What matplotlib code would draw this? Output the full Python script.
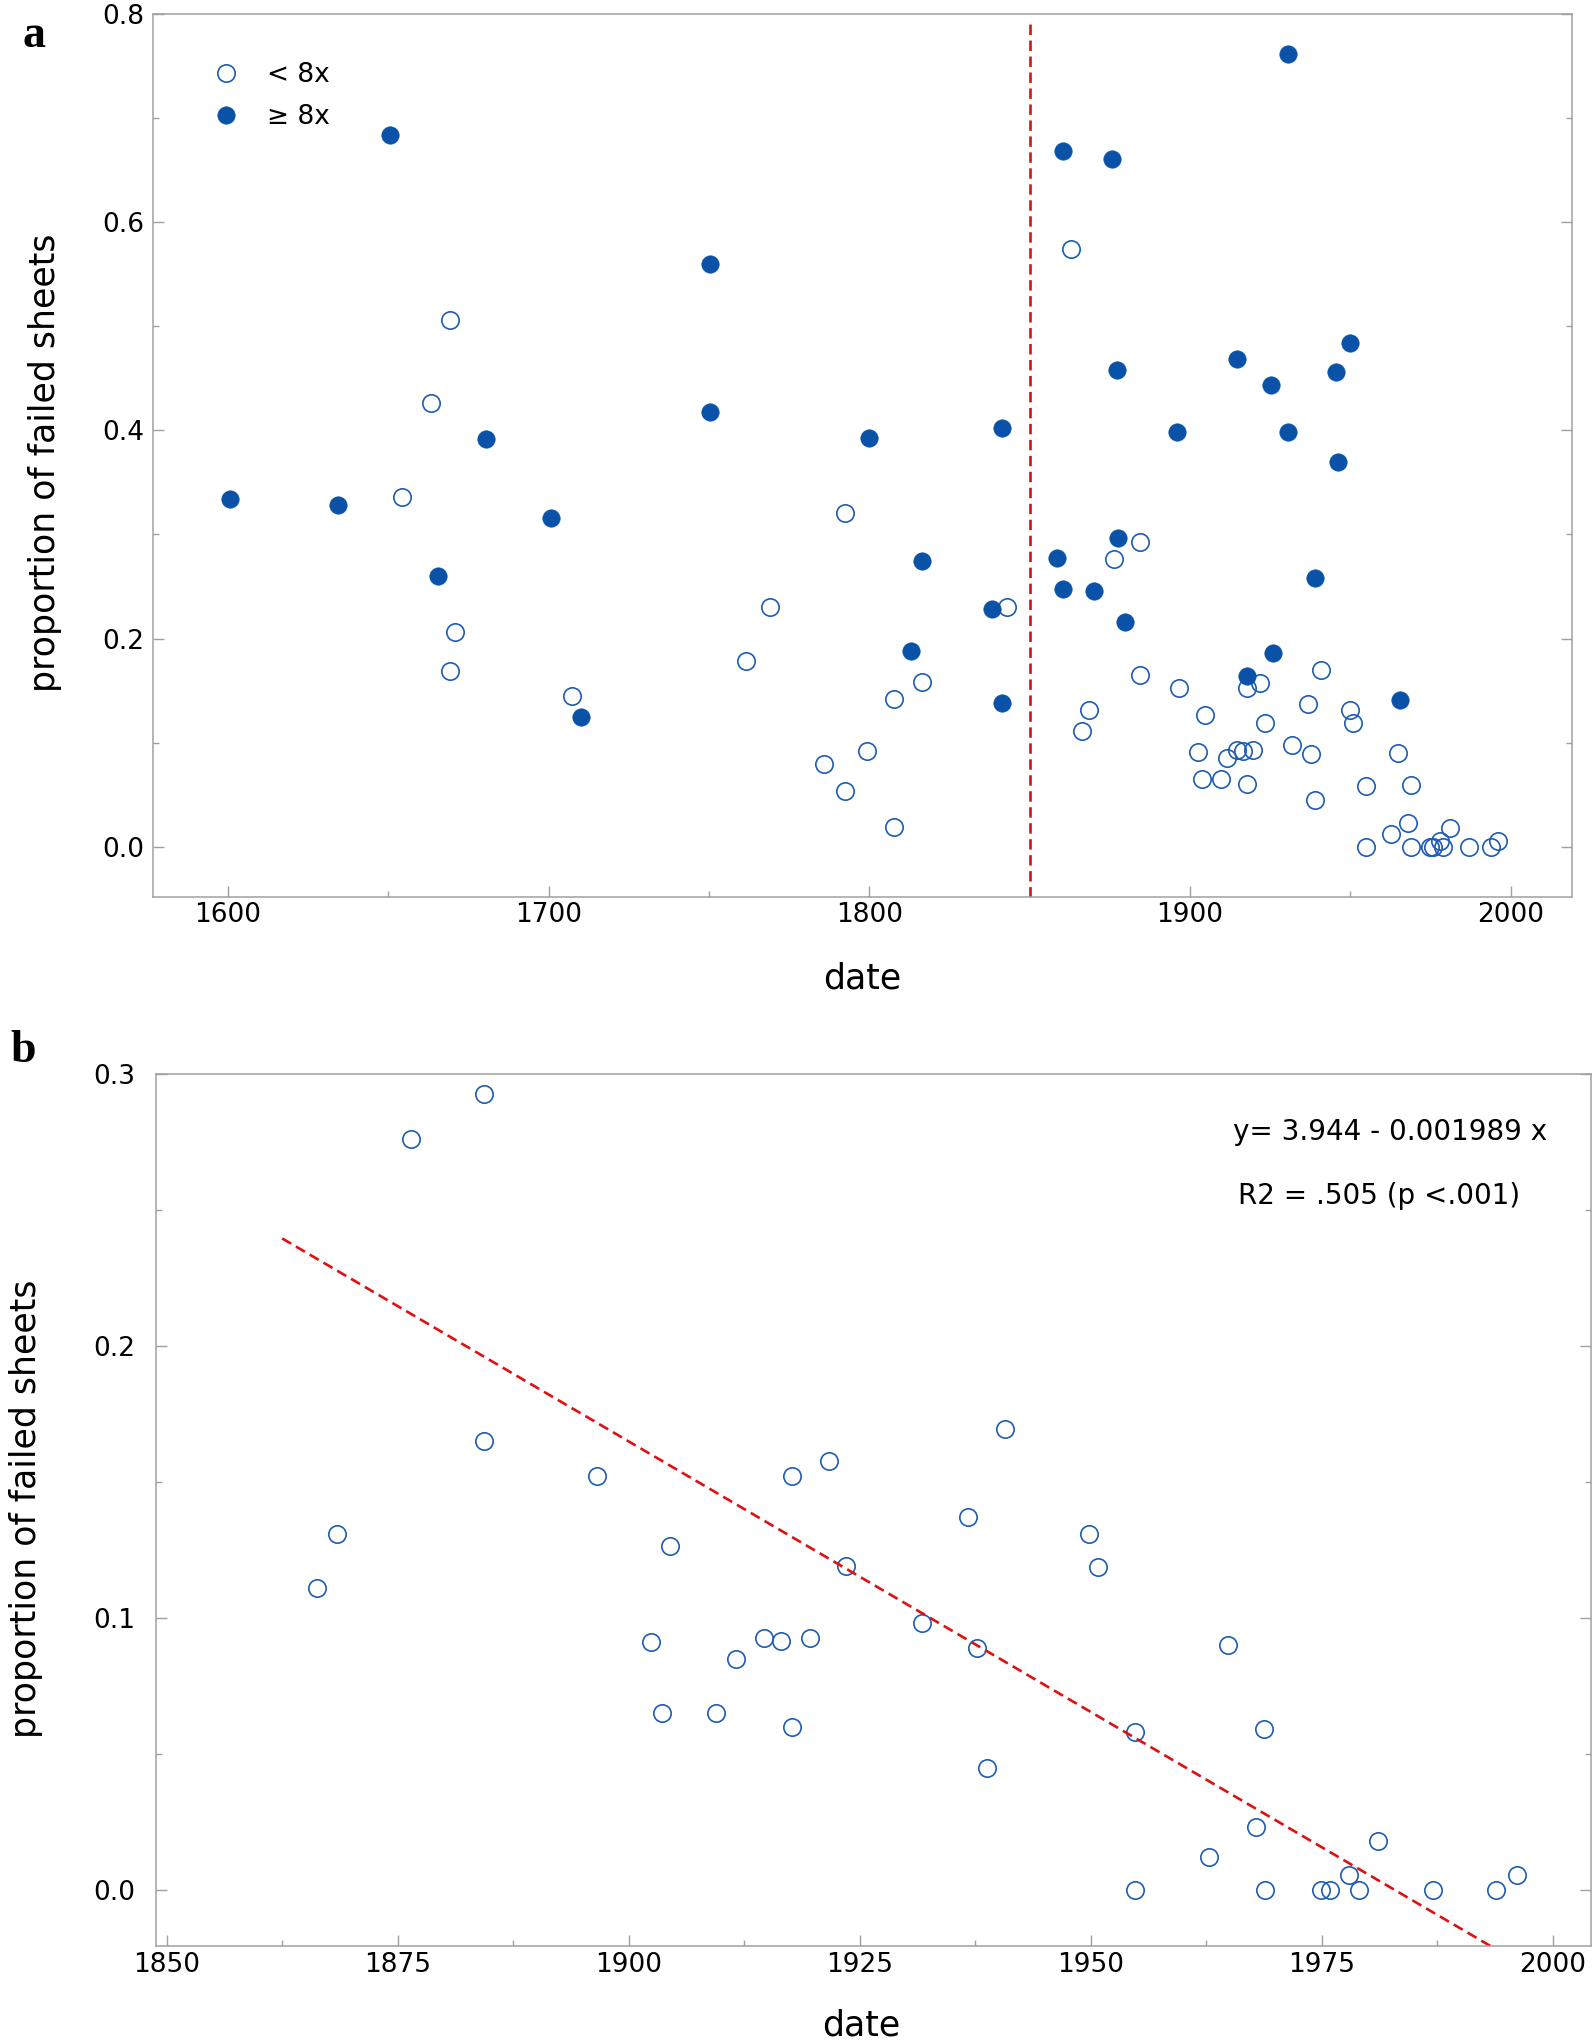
import matplotlib
matplotlib.use("Agg")
import matplotlib.pyplot as plt
from matplotlib.ticker import MultipleLocator, FormatStrFormatter

plt.rcParams['font.family'] = ['DejaVu Sans']
plt.rcParams['lines.scale_dashes'] = False

# ---- panel a : all samples ----
# >= 8x (filled)
hi_date = [1600.7, 1634.4, 1650.5, 1665.4, 1680.4, 1700.7, 1710.0, 1750.4, 1750.4,
           1799.9, 1813.1, 1816.4, 1838.3, 1841.2, 1841.2, 1858.5, 1860.5, 1860.5,
           1870.0, 1875.8, 1877.2, 1877.6, 1879.8, 1896.0, 1914.7, 1917.6, 1925.2,
           1925.8, 1930.6, 1930.5, 1938.9, 1945.4, 1946.0, 1949.9, 1965.4]
hi_prop = [0.334, 0.328, 0.684, 0.260, 0.392, 0.316, 0.1245, 0.560, 0.418,
           0.3925, 0.1884, 0.2742, 0.2284, 0.402, 0.138, 0.2777, 0.668, 0.2478,
           0.246, 0.6605, 0.458, 0.2966, 0.2163, 0.3984, 0.4683, 0.1644, 0.4439,
           0.1863, 0.7617, 0.398, 0.2579, 0.4561, 0.3698, 0.484, 0.1405]

# < 8x (open), not used in the regression
lo_date = [1654.3, 1663.4, 1669.2, 1670.7, 1669.2, 1707.4, 1761.5, 1769.1, 1786.0,
           1792.5, 1792.5, 1799.3, 1807.8, 1807.8, 1816.4, 1842.9, 1863.0]
lo_prop = [0.3356, 0.426, 0.506, 0.2066, 0.1689, 0.1446, 0.1785, 0.2303, 0.0793,
           0.3202, 0.0531, 0.0915, 0.1414, 0.0189, 0.158, 0.2302, 0.574]

# < 8x after 1850 (panel b, also shown in a)
late_date = [1866.3, 1868.4, 1876.4, 1884.4, 1884.4, 1896.6, 1902.4, 1903.6, 1904.5,
             1909.5, 1911.6, 1914.7, 1916.5, 1917.7, 1917.7, 1919.6, 1921.7, 1923.5,
             1931.8, 1936.7, 1937.7, 1938.8, 1940.7, 1949.8, 1950.8, 1954.8, 1954.8,
             1962.8, 1964.9, 1967.9, 1968.8, 1968.9, 1974.9, 1975.9, 1978.0, 1979.0,
             1981.1, 1987.0, 1993.9, 1996.1]
late_prop = [0.111, 0.131, 0.276, 0.2925, 0.165, 0.152, 0.091, 0.065, 0.1265,
             0.065, 0.085, 0.0925, 0.0915, 0.152, 0.060, 0.0925, 0.1575, 0.119,
             0.098, 0.137, 0.089, 0.045, 0.1695, 0.131, 0.1186, 0.058, 0.0,
             0.012, 0.090, 0.023, 0.059, 0.0, 0.0, 0.0, 0.0055, 0.0,
             0.018, 0.0, 0.0, 0.0055]

cutoff_year = 1850
intercept = 3.944
slope = -0.001989
fit_range = [1862.5, 2000]

blue = '#0a52a8'
blue_edge = '#1d5cb4'
red = '#dd1111'
spine_gray = '#a0a0a0'


def style_axes(ax, ypad):
    for s in ax.spines.values():
        s.set_color(spine_gray)
        s.set_linewidth(1.1)
    ax.tick_params(which='both', direction='in', right=True, top=False,
                   color=spine_gray, width=1.0, labelsize=19)
    ax.tick_params(which='major', length=8)
    ax.tick_params(which='minor', length=4.3)
    ax.tick_params(axis='x', pad=4)
    ax.tick_params(axis='y', pad=ypad)


fig = plt.figure(figsize=(15.95, 20.44), dpi=100)

# ---------- a ----------
ax1 = fig.add_axes([0.0959, 0.5613, 0.8897, 0.4318])
ax1.plot(lo_date + late_date, lo_prop + late_prop, 'o', ls='none', ms=12.5,
         mfc='none', mec=blue_edge, mew=1.2, label='< 8x')
ax1.plot(hi_date, hi_prop, 'o', ls='none', ms=12.5, mfc=blue, mec=blue,
         mew=0.5, label='\u2265 8x')
ax1.axvline(cutoff_year, ymin=0, ymax=0.99, color=red, lw=1.9, dashes=(7.5, 4))
ax1.set_xlim(1576.6, 2019.1)
ax1.set_ylim(-0.0481, 0.8)
ax1.xaxis.set_major_locator(MultipleLocator(100))
ax1.xaxis.set_minor_locator(MultipleLocator(50))
ax1.yaxis.set_major_locator(MultipleLocator(0.2))
ax1.yaxis.set_minor_locator(MultipleLocator(0.1))
ax1.yaxis.set_major_formatter(FormatStrFormatter('%.1f'))
style_axes(ax1, 6)
ax1.set_xlabel('date', fontsize=25, va='baseline')
ax1.xaxis.set_label_coords(0.5, -0.1038)
ax1.set_ylabel('proportion of failed sheets', fontsize=25, va='baseline')
ax1.yaxis.set_label_coords(-0.0693, 0.4918)
ax1.legend(loc='upper left', bbox_to_anchor=(0.0421, 0.946), frameon=False,
           fontsize=19, handlelength=1.0, handletextpad=1.05, borderpad=0,
           borderaxespad=0, labelspacing=0.63, numpoints=1)

# ---------- b ----------
ax2 = fig.add_axes([0.0981, 0.04795, 0.8991, 0.4267])
ax2.plot(late_date, late_prop, 'o', ls='none', ms=12.5, mfc='none',
         mec=blue_edge, mew=1.2)
fx = fit_range
ax2.plot(fx, [intercept + slope * v for v in fx], color=red, lw=1.9,
         dashes=(7.5, 4))
ax2.set_xlim(1848.9, 2004.1)
ax2.set_ylim(-0.0206, 0.3)
ax2.xaxis.set_major_locator(MultipleLocator(25))
ax2.xaxis.set_minor_locator(MultipleLocator(12.5))
ax2.yaxis.set_major_locator(MultipleLocator(0.1))
ax2.yaxis.set_minor_locator(MultipleLocator(0.05))
ax2.yaxis.set_major_formatter(FormatStrFormatter('%.1f'))
style_axes(ax2, 15)
ax2.set_xlabel('date', fontsize=25, va='baseline')
ax2.xaxis.set_label_coords(0.4913, -0.1032)
ax2.set_ylabel('proportion of failed sheets', fontsize=25, va='baseline')
ax2.yaxis.set_label_coords(-0.0843, 0.501)
ax2.text(0.7504, 0.9333, 'y= 3.944 - 0.001989 x', transform=ax2.transAxes,
         fontsize=20, va='center', ha='left')
ax2.text(0.7542, 0.8599, 'R2 = .505 (p <.001)', transform=ax2.transAxes,
         fontsize=20, va='center', ha='left')

# panel letters
fig.text(0.0144, 0.977, 'a', fontsize=33, fontweight='bold',
         family='Liberation Serif', va='baseline', ha='left')
fig.text(0.0065, 0.4804, 'b', fontsize=33, fontweight='bold',
         family='Liberation Serif', va='baseline', ha='left')

fig.savefig('out.png', dpi=100)
